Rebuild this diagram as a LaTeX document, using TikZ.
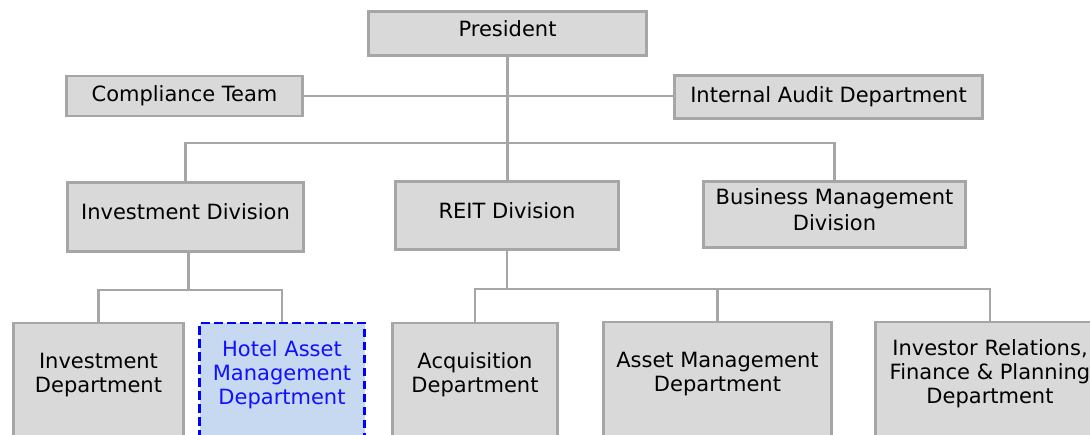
\documentclass[tikz,border=0pt]{standalone}
\usepackage{fontspec}
\setmainfont{DejaVu Sans}
\definecolor{boxgray}{HTML}{D9D9D9}
\definecolor{linegray}{HTML}{A6A6A6}
\definecolor{hotelfill}{HTML}{C6D9F1}
\definecolor{hoteltext}{HTML}{1010FF}

\begin{document}
\begin{tikzpicture}[x=1pt,y=-1pt,
   unit/.style={draw=linegray,fill=boxgray,line width=2.8pt,shape=rectangle,
     inner sep=0pt,align=center,font=\fontsize{21}{24}\selectfont},
   raised/.style={text depth=10pt},
   dept/.style={unit,minimum height=200pt,text depth=100pt},
   hoteldept/.style={dept,draw=blue,fill=hotelfill,text=hoteltext,
     dash pattern=on 8.5pt off 4.5pt},
   link/.style={draw=linegray,line width=2.8pt}]
   \useasboundingbox (0,0) rectangle (1090,434);
   \clip (0,0) rectangle (1090,434);

   \path (507.5,33.5) node[unit,raised,minimum width=278pt,minimum height=44pt] (pres) {President};
   \path (184.5,96) node[unit,minimum width=236pt,minimum height=40pt] (comp) {Compliance Team};
   \path (828.5,97) node[unit,minimum width=308pt,minimum height=43pt] (audit) {Internal Audit Department};

   \path (185.5,217) node[unit,raised,minimum width=236pt,minimum height=69pt] (inv) {Investment Division};
   \path (507,215.5) node[unit,raised,minimum width=223pt,minimum height=68pt] (reit) {REIT Division};
   \path (834.5,214.5) node[unit,raised,minimum width=262pt,minimum height=66pt,font=\fontsize{21}{26}\selectfont] (bmd) {Business Management\\Division};

   \path (98.5,423) node[dept,minimum width=170pt] (invd) {Investment\\Department};
   \path (282,423) node[hoteldept,minimum width=165pt] (hotel) {Hotel Asset\\Management\\Department};
   \path (475,423) node[dept,minimum width=165pt] (acq) {Acquisition\\Department};
   \path (717.5,422) node[dept,minimum width=228pt] (am) {Asset Management\\Department};
   \path (990,422) node[dept,minimum width=229pt] (irf) {Investor Relations,\\Finance \& Planning\\Department};

   \coordinate (topbus) at (0,143);
   \coordinate (invbus) at (0,290);
   \coordinate (reitbus) at (0,289);

   % lines between the units
   \draw[link] (pres.south) -- (pres.south |- reit.north);
   \draw[link] (comp.east) -- (comp.east -| audit.west);
   \draw[link] (inv.north) -- (inv.north |- topbus) -| (bmd.north);
   \draw[link] ([xshift=3pt]inv.south) -- ([xshift=3pt]inv.south |- invbus);
   \draw[link] (invd.north) -- (invd.north |- invbus) -| (hotel.north);
   \draw[link] (reit.south) -- (reit.south |- reitbus);
   \draw[link] (acq.north) -- (acq.north |- reitbus) -| (irf.north);
   \draw[link] (am.north) -- (am.north |- reitbus);
\end{tikzpicture}
\end{document}
